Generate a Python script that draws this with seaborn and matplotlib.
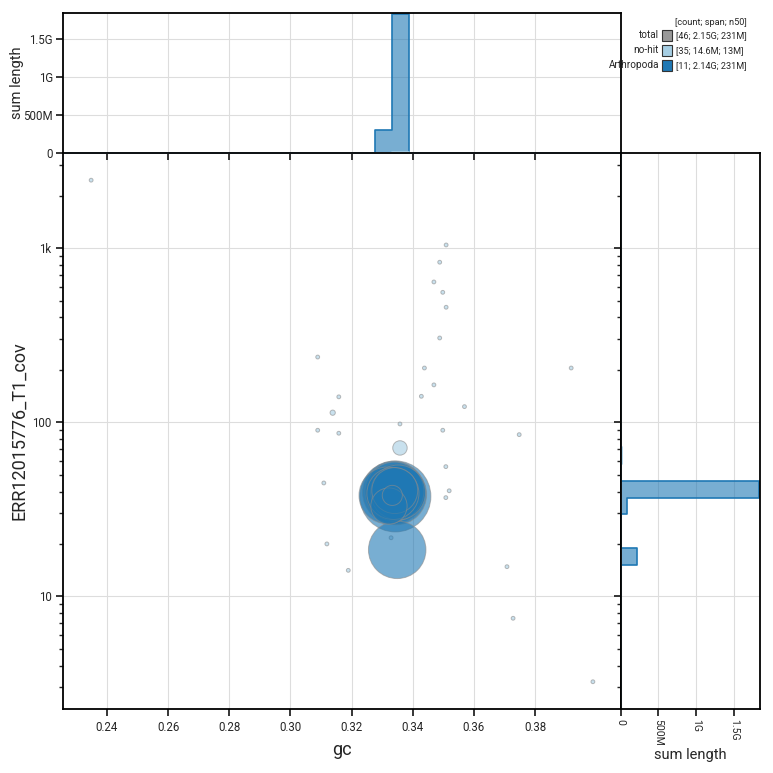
import numpy as np
import pandas as pd
import matplotlib
matplotlib.use("Agg")
import matplotlib.pyplot as plt
import seaborn as sns
from matplotlib.patches import Rectangle
from matplotlib.ticker import FuncFormatter, MultipleLocator, FixedLocator

# ---- data ----
# Arthropoda sequences (chromosome scale)
arth_gc = [0.3343, 0.3338, 0.3346, 0.3340, 0.3349, 0.3317, 0.3352, 0.3335, 0.3341, 0.3322, 0.3333]
arth_cov = [37.5, 39.5, 38.5, 40.0, 18.5, 38.0, 39.5, 39.0, 40.5, 33.0, 38.0]
arth_len = [336e6, 260e6, 245e6, 231e6, 220e6, 215e6, 200e6, 180e6, 140e6, 87e6, 26e6]

# no-hit sequences (mostly tiny)
nohit_gc = [0.2348, 0.3509, 0.3488, 0.3469, 0.3498, 0.3509, 0.3488, 0.3089, 0.3438, 0.3918,
            0.3469, 0.3158, 0.3428, 0.3569, 0.3138, 0.3358, 0.3089, 0.3158, 0.3498, 0.3748,
            0.3358, 0.3508, 0.3109, 0.3519, 0.3508, 0.3119, 0.3329, 0.3189, 0.3708, 0.3728,
            0.3989, 0.3345, 0.3338, 0.3350, 0.3342]
nohit_cov = [2460, 1044, 831, 640, 558, 458, 305, 237, 205, 205,
             164, 140, 141, 123, 113.5, 97.8, 90, 86.5, 90, 84.9,
             71.2, 55.6, 44.8, 40.4, 36.9, 20.0, 21.7, 14.1, 14.8, 7.48,
             3.23, 40, 38, 42, 39]
nohit_len = [22e3, 18e3, 20e3, 25e3, 19e3, 21e3, 24e3, 30e3, 22e3, 20e3,
             26e3, 23e3, 18e3, 21e3, 0.9e6, 19e3, 17e3, 20e3, 18e3, 22e3,
             13.0e6, 20e3, 28e3, 19e3, 21e3, 32e3, 24e3, 16e3, 19e3, 17e3,
             15e3, 20e3, 20e3, 20e3, 20e3]

gc_ticks = [0.24, 0.26, 0.28, 0.30, 0.32, 0.34, 0.36, 0.38]

legend_labels = ["total", "no-hit", "Arthropoda"]
legend_stats = ["[46; 2.15G; 231M]", "[35; 14.6M; 13M]", "[11; 2.14G; 231M]"]
legend_colors = ["#999999", "#a6cee3", "#1f78b4"]

palette = {"no-hit": "#a6cee3", "Arthropoda": "#1f78b4"}

nohit = pd.DataFrame({"gc": nohit_gc, "cov": nohit_cov, "length": nohit_len, "group": "no-hit"})
arth = pd.DataFrame({"gc": arth_gc, "cov": arth_cov, "length": arth_len, "group": "Arthropoda"})
arth = arth.sort_values("length", ascending=False)
df = pd.concat([nohit, arth], ignore_index=True)

sns.set_style("ticks")
plt.rcParams["font.family"] = ["Roboto", "DejaVu Sans"]
plt.rcParams["axes.edgecolor"] = "black"
plt.rcParams["axes.linewidth"] = 1.3

fig = plt.figure(figsize=(7.73, 7.73), dpi=100)
ax = fig.add_axes([0.0819, 0.0824, 0.7211, 0.7201])
ax_top = fig.add_axes([0.0819, 0.8025, 0.7211, 0.1803], sharex=ax)
ax_right = fig.add_axes([0.803, 0.0824, 0.1802, 0.7201], sharey=ax)

ax.set_yscale("log")
ax.set_xlim(0.2257, 0.4080)
ax.set_ylim(2.243, 3540)

grid_kw = dict(color="#dddddd", linewidth=0.8)
tick_fs = 8.3

# main blob plot
sns.scatterplot(data=df, x="gc", y="cov", hue="group", palette=palette,
                size="length", sizes=(7.5, 2613), alpha=0.6,
                edgecolor="#8c8c8c", linewidth=0.7, legend=False, ax=ax, zorder=3)
ax.xaxis.set_major_locator(FixedLocator(gc_ticks))
ax.xaxis.set_major_formatter(FuncFormatter(lambda v, p: f"{v:.2f}"))
ax.yaxis.set_major_formatter(FuncFormatter(lambda v, p: "1k" if v >= 1000 else f"{v:g}"))
ax.grid(True, which="major", **grid_kw)
ax.set_axisbelow(True)
ax.set_xlabel("gc", fontsize=13)
ax.xaxis.set_label_coords(0.5, -0.057)
ax.set_ylabel("ERR12015776_T1_cov", fontsize=13)
ax.yaxis.set_label_coords(-0.063, 0.5)
ax.tick_params(axis="both", which="major", labelsize=tick_fs, length=5, width=1.3)
ax.tick_params(axis="y", which="minor", length=3, width=1)

# histogram bins (lists, seaborn compares bins against "auto")
gc_bins = list(np.arange(0.2231, 0.42, 0.0055))
cov_bins = list(np.arange(0.0201, 3.65, 0.0967))  # log10 space
hist_max = 1.845e9

def fmt_len(v, p):
    if v == 0:
        return "0"
    if v >= 1e9:
        return f"{v / 1e9:g}G"
    return f"{v / 1e6:g}M"

# top histogram
sns.histplot(data=df, x="gc", weights="length", hue="group", palette=palette,
             bins=gc_bins, element="step", fill=True, alpha=0.6, linewidth=1.2,
             legend=False, ax=ax_top)
ax_top.set_ylim(0, hist_max)
ax_top.yaxis.set_major_locator(MultipleLocator(5e8))
ax_top.yaxis.set_major_formatter(FuncFormatter(fmt_len))
ax_top.grid(True, **grid_kw)
ax_top.set_axisbelow(True)
ax_top.set_xlabel("")
ax_top.set_ylabel("sum length", fontsize=10.5)
ax_top.yaxis.set_label_coords(-0.071, 0.5)
ax_top.tick_params(axis="x", labelbottom=False, length=5, width=1.3)
ax_top.tick_params(axis="y", labelsize=tick_fs, length=5, width=1.3, pad=2.5)

# right histogram
sns.histplot(data=df, y="cov", weights="length", hue="group", palette=palette,
             bins=cov_bins, element="step", fill=True, alpha=0.6, linewidth=1.2,
             legend=False, ax=ax_right)
ax_right.set_xlim(0, hist_max)
ax_right.xaxis.set_major_locator(MultipleLocator(5e8))
ax_right.xaxis.set_major_formatter(FuncFormatter(fmt_len))
ax_right.grid(True, which="major", **grid_kw)
ax_right.set_axisbelow(True)
ax_right.set_ylabel("")
ax_right.set_xlabel("sum length", fontsize=10.5)
ax_right.xaxis.set_label_coords(0.5, -0.069)
ax_right.tick_params(axis="y", which="both", labelleft=False)
ax_right.tick_params(axis="y", which="major", length=5, width=1.3)
ax_right.tick_params(axis="y", which="minor", length=3, width=1)
ax_right.tick_params(axis="x", labelsize=7.5, length=5, width=1.3, pad=2,
                     labelrotation=-90)

for a in (ax, ax_top, ax_right):
    for s in a.spines.values():
        s.set_visible(True)
        s.set_color("black")
        s.set_linewidth(1.3)

# legend in the top right corner
fs = 6.6
fig.text(747 / 773, 1 - 22.7 / 773, "[count; span; n50]", fontsize=fs, ha="right", va="center")
for i, (lab, st, col) in enumerate(zip(legend_labels, legend_stats, legend_colors)):
    yc = 1 - (35.3 + 15 * i) / 773
    fig.text(659 / 773, yc, lab, fontsize=fs + 0.6, ha="right", va="center")
    fig.patches.append(Rectangle((661.7 / 773, yc - 5.3 / 773), 10.6 / 773, 10.6 / 773,
                                 transform=fig.transFigure, facecolor=col,
                                 edgecolor="#333333", linewidth=0.8, figure=fig))
    fig.text(675.7 / 773, yc, st, fontsize=fs, ha="left", va="center")

fig.savefig("out.png", dpi=100)
